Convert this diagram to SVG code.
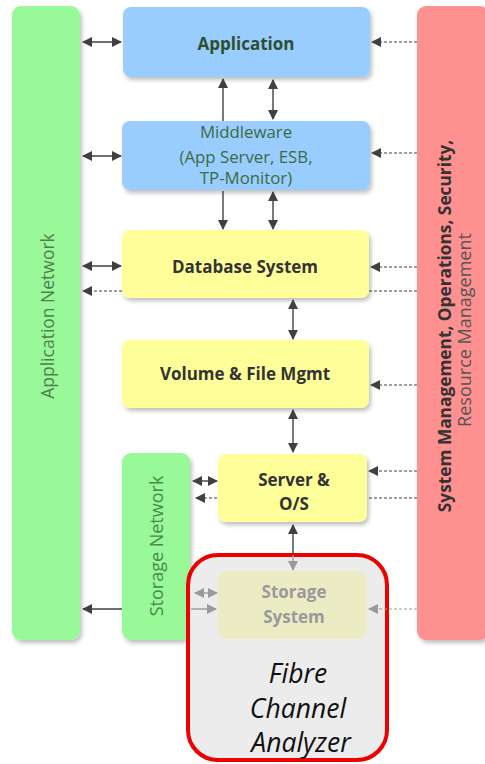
<svg xmlns="http://www.w3.org/2000/svg" width="485" height="764" viewBox="0 0 485 764">
  <defs>
    <filter id="shadow" x="-10%" y="-10%" width="125%" height="125%">
      <feDropShadow dx="2" dy="3" stdDeviation="2" flood-color="#000" flood-opacity="0.25"/>
    </filter>
    <marker id="ah" viewBox="0 0 10 10" refX="9" refY="5" markerWidth="10" markerHeight="10" markerUnits="userSpaceOnUse" orient="auto-start-reverse">
      <path d="M0,0 L10,5 L0,10 z" fill="#404040"/>
    </marker>
    <marker id="ahg" viewBox="0 0 10 10" refX="9" refY="5" markerWidth="10" markerHeight="10" markerUnits="userSpaceOnUse" orient="auto-start-reverse">
      <path d="M0,0 L10,5 L0,10 z" fill="#9a9a9a"/>
    </marker>
  </defs>
  <style>
    .blue { fill: #99ccff; filter: url(#shadow); }
    .yellow { fill: #ffff99; filter: url(#shadow); }
    .green { fill: #99f999; filter: url(#shadow); }
    .red { fill: #ff9090; filter: url(#shadow); }
    .faded { fill: #ececc4; }
    .t { font-family: "Open Sans", "Liberation Sans", sans-serif; text-anchor: middle; }
    .bold { font-weight: bold; font-size: 17px; }
    .dk { fill: #333333; }
    .gn { fill: #3d6b3d; font-size: 16.8px; }
    .conn { stroke: #404040; stroke-width: 1.4; fill: none; }
    .dash { stroke: #404040; stroke-width: 1; stroke-dasharray: 3 2; fill: none; }
    .gconn { stroke: #9a9a9a; stroke-width: 1.4; fill: none; }
    .gdash { stroke: #9a9a9a; stroke-width: 1; stroke-dasharray: 3 2; fill: none; }
    .fca { font-size: 26.5px; font-style: italic; fill: #111111; }
  </style>

  <rect width="485" height="764" fill="#ffffff"/>

  <!-- dashed management lines running behind boxes -->
  <g id="connectors-back">
    <line class="dash" x1="417" y1="291" x2="83" y2="291" marker-end="url(#ah)"/>
    <line class="dash" x1="417" y1="498" x2="196" y2="498" marker-end="url(#ah)"/>
  </g>

  <g id="application-network">
    <rect class="green" x="12" y="6" width="68" height="634" rx="9"/>
    <text class="t" transform="translate(54 316) rotate(-90)" font-size="17.5" fill="#4f7f4f">Application Network</text>
  </g>

  <g id="system-management">
    <rect class="red" x="417" y="6" width="72" height="634" rx="9"/>
    <text class="t dk" transform="translate(451 326) rotate(-90)" font-weight="bold" font-size="17.3">System Management, Operations, Security,</text>
    <text class="t" transform="translate(471 330) rotate(-90)" font-size="18" fill="#555555">Resource Management</text>
  </g>

  <g id="application">
    <rect class="blue" x="123" y="7" width="247" height="70" rx="8"/>
    <text class="t bold" x="246" y="50" fill="#2f4f2f">Application</text>
  </g>

  <g id="middleware">
    <rect class="blue" x="122" y="121" width="248" height="69" rx="8"/>
    <text class="t gn" x="246" y="138">Middleware</text>
    <text class="t gn" x="246" y="163">(App Server, ESB,</text>
    <text class="t gn" x="246" y="184">TP-Monitor)</text>
  </g>

  <g id="database-system">
    <rect class="yellow" x="122" y="230" width="247" height="68" rx="8"/>
    <text class="t bold dk" x="245" y="273">Database System</text>
  </g>

  <g id="volume-file-mgmt">
    <rect class="yellow" x="122" y="340" width="247" height="68" rx="8"/>
    <text class="t bold dk" x="245" y="380">Volume &amp; File Mgmt</text>
  </g>

  <g id="server-os">
    <rect class="yellow" x="218" y="454" width="149" height="68" rx="8"/>
    <text class="t bold dk" x="294" y="486">Server &amp;</text>
    <text class="t bold dk" x="294" y="510">O/S</text>
  </g>

  <g id="storage-network">
    <rect class="green" x="122" y="453" width="68" height="187" rx="9"/>
    <text class="t" transform="translate(163 546) rotate(-90)" font-size="18" fill="#4a8a4a">Storage Network</text>
  </g>

  <g id="fibre-channel-analyzer">
    <rect x="188" y="555" width="199" height="205" rx="30" fill="#ececec" stroke="#ee0000" stroke-width="4"/>
    <rect class="faded" x="218" y="571" width="149" height="68" rx="8"/>
    <text class="t bold" x="294" y="598" fill="#9a9a9a">Storage</text>
    <text class="t bold" x="294" y="623" fill="#9a9a9a">System</text>
    <text class="t fca" x="298" y="683">Fibre</text>
    <text class="t fca" x="298" y="718">Channel</text>
    <text class="t fca" x="301" y="752">Analyzer</text>
  </g>

  <g id="connectors">
    <!-- application network links -->
    <line class="conn" x1="83" y1="42" x2="121" y2="42" marker-start="url(#ah)" marker-end="url(#ah)"/>
    <line class="conn" x1="83" y1="156" x2="121" y2="156" marker-start="url(#ah)" marker-end="url(#ah)"/>
    <line class="conn" x1="83" y1="266" x2="121" y2="266" marker-start="url(#ah)" marker-end="url(#ah)"/>
    <line class="conn" x1="122" y1="609" x2="83" y2="609" marker-end="url(#ah)"/>

    <!-- management links -->
    <line class="dash" x1="417" y1="42" x2="372" y2="42" marker-end="url(#ah)"/>
    <line class="dash" x1="417" y1="153" x2="372" y2="153" marker-end="url(#ah)"/>
    <line class="dash" x1="417" y1="267" x2="371" y2="267" marker-end="url(#ah)"/>
    <line class="dash" x1="417" y1="385" x2="371" y2="385" marker-end="url(#ah)"/>
    <line class="dash" x1="417" y1="471" x2="369" y2="471" marker-end="url(#ah)"/>
    <line class="gdash" x1="417" y1="609" x2="369" y2="609" marker-end="url(#ahg)"/>

    <!-- vertical stack links -->
    <line class="conn" x1="223" y1="121" x2="223" y2="79" marker-end="url(#ah)"/>
    <line class="conn" x1="273" y1="80" x2="273" y2="119" marker-start="url(#ah)" marker-end="url(#ah)"/>
    <line class="conn" x1="223" y1="191" x2="223" y2="229" marker-end="url(#ah)"/>
    <line class="conn" x1="273" y1="192" x2="273" y2="229" marker-start="url(#ah)" marker-end="url(#ah)"/>
    <line class="conn" x1="293" y1="300" x2="293" y2="339" marker-start="url(#ah)" marker-end="url(#ah)"/>
    <line class="conn" x1="293" y1="410" x2="293" y2="452" marker-start="url(#ah)" marker-end="url(#ah)"/>
    <line class="conn" x1="293" y1="525" x2="293" y2="555" marker-start="url(#ah)"/>
    <line class="gconn" x1="293" y1="555" x2="293" y2="570" marker-end="url(#ahg)"/>

    <!-- storage network links -->
    <line class="conn" x1="193" y1="481" x2="217" y2="481" marker-start="url(#ah)" marker-end="url(#ah)"/>
    <line class="gconn" x1="195" y1="593" x2="217" y2="593" marker-start="url(#ahg)" marker-end="url(#ahg)"/>
    <line class="gconn" x1="191" y1="609" x2="216" y2="609" marker-end="url(#ahg)"/>
  </g>
</svg>
